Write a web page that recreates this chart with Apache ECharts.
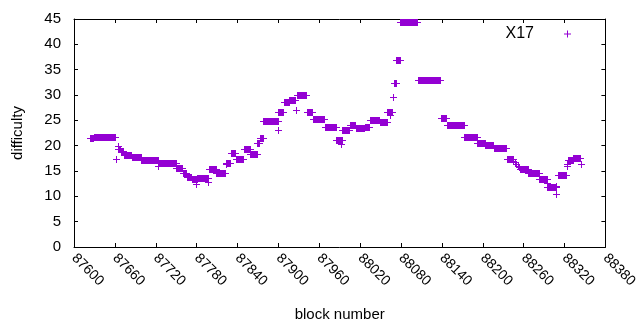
<!DOCTYPE html>
<html>
<head>
<meta charset="utf-8">
<title>difficulty - X17</title>
<script src="https://cdn.jsdelivr.net/npm/echarts@6/dist/echarts.min.js"></script>
<style>
    * { margin: 0; padding: 0; }
    #main { width: 640px; height: 330px; background: #fff; }
</style>
</head>
<body>
<div id="main"></div>
<script>
// flat stretches: [first block, last block, difficulty]
var runs = [
    [87624, 87628, 21.4], [87629, 87660, 21.7], [87664, 87668, 19.2], [87669, 87672, 18.8],
    [87673, 87684, 18.1], [87685, 87698, 17.7], [87699, 87723, 17.1], [87724, 87749, 16.5],
    [87750, 87759, 15.4], [87760, 87765, 14.5], [87766, 87772, 13.7], [87773, 87780, 13.3],
    [87781, 87797, 13.6], [87798, 87808, 15.2], [87809, 87822, 14.6], [87823, 87829, 16.5],
    [87830, 87837, 18.5], [87838, 87848, 17.3], [87849, 87858, 19.2], [87859, 87868, 18.3],
    [87869, 87872, 20.5], [87873, 87877, 21.5], [87878, 87899, 24.7], [87900, 87907, 26.5],
    [87908, 87915, 28.5], [87916, 87924, 29.0], [87928, 87941, 30.0], [87942, 87950, 26.6],
    [87951, 87967, 25.2], [87968, 87984, 23.6], [87985, 87993, 21.1], [87994, 88004, 22.9],
    [88005, 88013, 24.0], [88014, 88026, 23.3], [88027, 88033, 23.5], [88034, 88048, 24.9],
    [88049, 88059, 24.5], [88060, 88067, 26.5], [88069, 88072, 32.3], [88073, 88078, 36.9],
    [88079, 88104, 44.3], [88105, 88137, 32.9], [88138, 88146, 25.4], [88147, 88172, 24.0],
    [88173, 88191, 21.6], [88192, 88203, 20.5], [88204, 88215, 20.0], [88216, 88234, 19.5],
    [88235, 88244, 17.3], [88255, 88266, 15.3], [88267, 88282, 14.5], [88283, 88294, 13.4],
    [88295, 88308, 11.8], [88310, 88322, 14.1], [88325, 88332, 17.0], [88333, 88342, 17.5]
];
// single blocks: [block, difficulty]
var points = [
    [87662, 17.3], [87665, 19.8], [87724, 15.8], [87779, 12.4], [87797, 12.7], [87823, 16.2],
    [87899, 23.0], [87926, 27.0], [87992, 20.3], [88064, 25.9], [88068, 29.6], [88245, 16.8],
    [88247, 16.6], [88249, 16.3], [88251, 15.9], [88253, 15.6], [88294, 12.6], [88307, 10.4],
    [88308, 11.9], [88323, 15.8], [88324, 16.3], [88344, 16.3]
];
var seriesName = 'X17';
var purple = '#9400d3';
var plusIcon = 'path://M3,0h1v3h3v1h-3v3h-1v-3h-3v-1h3z';
var font = 'Liberation Sans';

var data = runs.concat(points.map(function (p) { return [p[0], p[0], p[1]]; }));

// draws a row of '+' marks from block a to block b
function renderPlus(params, api) {
    var a = api.coord([api.value(0), api.value(2)]);
    var b = api.coord([api.value(1), api.value(2)]);
    var x0 = Math.round(a[0]), x1 = Math.round(b[0]), y = Math.round(a[1] - 0.5);
    var style = { fill: purple };
    return {
        type: 'group',
        children: [
            { type: 'rect', shape: { x: x0, y: y - 3, width: x1 - x0 + 1, height: 7 }, style: style },
            { type: 'rect', shape: { x: x0 - 3, y: y, width: x1 - x0 + 7, height: 1 }, style: style }
        ]
    };
}

var chart = echarts.init(document.getElementById('main'), null, { renderer: 'canvas' });

var xBase = {
    type: 'value', min: 87600, max: 88380, interval: 60,
    axisLine: { show: true, onZero: false, lineStyle: { color: '#000', width: 1 } },
    axisTick: { show: true, inside: true, length: 4, lineStyle: { color: '#000' } },
    splitLine: { show: false }
};
var yBase = {
    type: 'value', min: 0, max: 45, interval: 5,
    axisLine: { show: true, onZero: false, lineStyle: { color: '#000', width: 1 } },
    axisTick: { show: true, inside: true, length: 4, lineStyle: { color: '#000' } },
    splitLine: { show: false }
};

var option = {
    animation: false,
    textStyle: { fontFamily: font },
    grid: { left: 74, right: 31, top: 19, bottom: 83 },
    legend: {
        data: [{ name: seriesName, icon: plusIcon }],
        right: 64, top: 21, align: 'right',
        itemWidth: 7, itemHeight: 7,
        textStyle: { fontFamily: font, fontSize: 16, color: '#000', padding: [0, 25, 0, 0] }
    },
    xAxis: [
        Object.assign({}, xBase, {
            position: 'bottom',
            name: 'block number', nameLocation: 'middle', nameGap: 60,
            nameTextStyle: { fontFamily: font, fontSize: 15, color: '#000' },
            axisLabel: { rotate: -45, margin: 9, fontSize: 14, color: '#000', fontFamily: font,
                showMinLabel: true, showMaxLabel: true,
                formatter: function (v) { return String(v); } }
        }),
        Object.assign({}, xBase, { position: 'top', axisLabel: { show: false } })
    ],
    yAxis: [
        Object.assign({}, yBase, {
            position: 'left',
            name: 'difficulty', nameLocation: 'middle', nameGap: 49,
            nameTextStyle: { fontFamily: font, fontSize: 15, color: '#000' },
            axisLabel: { margin: 13, fontSize: 15, color: '#000', fontFamily: font }
        }),
        Object.assign({}, yBase, { position: 'right', axisLabel: { show: false } })
    ],
    series: [{
        name: seriesName,
        type: 'custom',
        renderItem: renderPlus,
        encode: { x: [0, 1], y: 2 },
        itemStyle: { color: purple },
        clip: false,
        data: data
    }]
};

chart.setOption(option);
</script>
</body>
</html>
